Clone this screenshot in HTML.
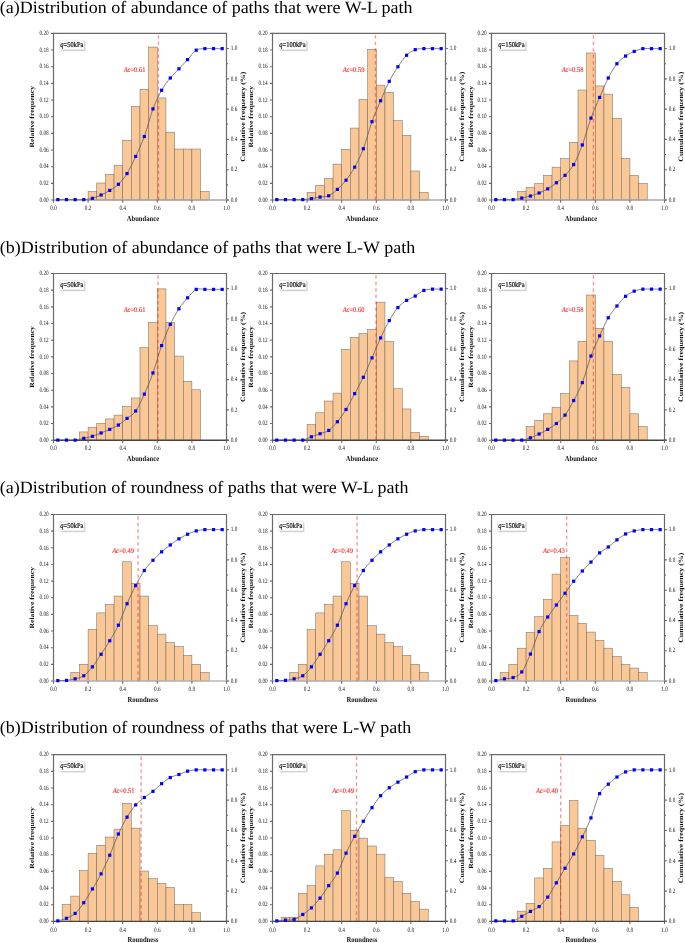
<!DOCTYPE html>
<html><head><meta charset="utf-8"><style>
html,body{margin:0;padding:0;background:#fff;}
body{width:685px;height:943px;overflow:hidden;}
svg{display:block;will-change:transform;}
text{text-rendering:geometricPrecision;}
</style></head><body>
<svg width="685" height="943" viewBox="0 0 685 943">
<rect width="685" height="943" fill="#fff"/>
<text transform="translate(-0.3,12.5) scale(1,0.96)" style="font-family:'Liberation Serif',serif;font-size:18px" fill="#000">(a)Distribution of abundance of paths that were W-L path</text>
<g fill="#fac896" stroke="#6e6660" stroke-width="0.5"><rect x="88.1" y="191.44" width="8.65" height="8.56"/><rect x="96.75" y="183.01" width="8.65" height="16.99"/><rect x="105.4" y="174.32" width="8.65" height="25.68"/><rect x="114.05" y="165.64" width="8.65" height="34.36"/><rect x="122.7" y="140.34" width="8.65" height="59.66"/><rect x="131.35" y="106.62" width="8.65" height="93.38"/><rect x="140" y="89.25" width="8.65" height="110.75"/><rect x="148.65" y="47.09" width="8.65" height="152.91"/><rect x="157.3" y="97.93" width="8.65" height="102.07"/><rect x="165.95" y="132.17" width="8.65" height="67.83"/><rect x="174.6" y="149.03" width="8.65" height="50.97"/><rect x="183.25" y="149.03" width="8.65" height="50.97"/><rect x="191.9" y="149.03" width="8.65" height="50.97"/><rect x="200.55" y="191.44" width="8.65" height="8.56"/></g>
<path d="M53.5,200 V33.4 H226.5 V200" fill="none" stroke="#6a6a6a" stroke-width="1.2"/>
<line x1="53.5" y1="200" x2="228.9" y2="200" stroke="#a6a6a6" stroke-width="1.4"/>
<path d="M51,200H53.5M51,183.34H53.5M51,166.68H53.5M51,150.02H53.5M51,133.36H53.5M51,116.7H53.5M51,100.04H53.5M51,83.38H53.5M51,66.72H53.5M51,50.06H53.5M51,33.4H53.5M226.5,200h2.4M226.5,184.85h1.5M226.5,169.71h2.4M226.5,154.56h1.5M226.5,139.42h2.4M226.5,124.27h1.5M226.5,109.13h2.4M226.5,93.98h1.5M226.5,78.84h2.4M226.5,63.69h1.5M226.5,48.55h2.4M53.5,200v2.7M88.1,200v2.7M122.7,200v2.7M157.3,200v2.7M191.9,200v2.7M226.5,200v2.7" stroke="#6a6a6a" stroke-width="1.1" fill="none"/>
<g transform="scale(0.8,1)" style="font-family:'Liberation Serif',serif;font-size:6.6px" fill="#111"><text x="60.88" y="201.7" text-anchor="end">0.00</text><text x="60.88" y="185.04" text-anchor="end">0.02</text><text x="60.88" y="168.38" text-anchor="end">0.04</text><text x="60.88" y="151.72" text-anchor="end">0.06</text><text x="60.88" y="135.06" text-anchor="end">0.08</text><text x="60.88" y="118.4" text-anchor="end">0.10</text><text x="60.88" y="101.74" text-anchor="end">0.12</text><text x="60.88" y="85.08" text-anchor="end">0.14</text><text x="60.88" y="68.42" text-anchor="end">0.16</text><text x="60.88" y="51.76" text-anchor="end">0.18</text><text x="60.88" y="35.1" text-anchor="end">0.20</text><text x="288.37" y="201.75">0.0</text><text x="288.37" y="171.46">0.2</text><text x="288.37" y="141.17">0.4</text><text x="288.37" y="110.88">0.6</text><text x="288.37" y="80.59">0.8</text><text x="288.37" y="50.3">1.0</text><text x="66.88" y="210.2" text-anchor="middle">0.0</text><text x="110.12" y="210.2" text-anchor="middle">0.2</text><text x="153.38" y="210.2" text-anchor="middle">0.4</text><text x="196.62" y="210.2" text-anchor="middle">0.6</text><text x="239.88" y="210.2" text-anchor="middle">0.8</text><text x="283.12" y="210.2" text-anchor="middle">1.0</text></g>
<line x1="158.51" y1="33.4" x2="158.51" y2="200" stroke="#ff1010" stroke-opacity="0.45" stroke-width="1.4" stroke-dasharray="3.4,3.05" stroke-dashoffset="-1.85"/>
<path d="M57.83,199.61 C59.27,199.61 63.59,199.61 66.47,199.61 C69.36,199.61 72.24,199.61 75.12,199.61 C78.01,199.61 80.89,199.83 83.78,199.61 C86.66,199.4 89.54,199.1 92.43,198.34 C95.31,197.57 98.19,196.33 101.08,195.01 C103.96,193.69 106.84,192.2 109.73,190.42 C112.61,188.63 115.49,187.09 118.38,184.28 C121.26,181.47 124.14,178.2 127.03,173.55 C129.91,168.91 132.79,162.61 135.68,156.44 C138.56,150.26 141.44,144.43 144.32,136.51 C147.21,128.59 150.09,116.63 152.98,108.92 C155.86,101.21 158.74,95.42 161.62,90.27 C164.51,85.12 167.39,81.58 170.28,78.01 C173.16,74.43 176.04,71.88 178.93,68.81 C181.81,65.74 184.69,62.72 187.58,59.61 C190.46,56.5 193.34,51.99 196.23,50.16 C199.11,48.33 201.99,48.88 204.88,48.63 C207.76,48.37 210.64,48.63 213.53,48.63 C216.41,48.63 220.73,48.63 222.18,48.63" fill="none" stroke="#505050" stroke-width="0.7"/>
<g fill="#0000ff"><rect x="56.23" y="198.01" width="3.2" height="3.2"/><rect x="64.88" y="198.01" width="3.2" height="3.2"/><rect x="73.53" y="198.01" width="3.2" height="3.2"/><rect x="82.18" y="198.01" width="3.2" height="3.2"/><rect x="90.83" y="196.74" width="3.2" height="3.2"/><rect x="99.48" y="193.41" width="3.2" height="3.2"/><rect x="108.13" y="188.82" width="3.2" height="3.2"/><rect x="116.78" y="182.68" width="3.2" height="3.2"/><rect x="125.43" y="171.95" width="3.2" height="3.2"/><rect x="134.08" y="154.84" width="3.2" height="3.2"/><rect x="142.72" y="134.91" width="3.2" height="3.2"/><rect x="151.38" y="107.32" width="3.2" height="3.2"/><rect x="160.03" y="88.67" width="3.2" height="3.2"/><rect x="168.68" y="76.41" width="3.2" height="3.2"/><rect x="177.33" y="67.21" width="3.2" height="3.2"/><rect x="185.98" y="58.01" width="3.2" height="3.2"/><rect x="194.63" y="48.56" width="3.2" height="3.2"/><rect x="203.28" y="47.03" width="3.2" height="3.2"/><rect x="211.93" y="47.03" width="3.2" height="3.2"/><rect x="220.58" y="47.03" width="3.2" height="3.2"/></g>
<text transform="translate(142.9,220.9) scale(0.86,1)" text-anchor="middle" style="font-family:'Liberation Serif',serif;font-size:7.7px;font-weight:bold" fill="#111">Abundance</text>
<text transform="translate(34.35,116.7) rotate(-90) scale(1,0.84)" text-anchor="middle" style="font-family:'Liberation Serif',serif;font-size:7.7px;font-weight:bold" fill="#111">Relative frequency</text>
<text transform="translate(244.9,116.7) rotate(-90) scale(1,0.84)" text-anchor="middle" style="font-family:'Liberation Serif',serif;font-size:7.9px;font-weight:bold" fill="#111">Cumulative frequency (%)</text>
<rect x="61.1" y="41.4" width="24.28" height="9.7" fill="#cfcfcf"/>
<rect x="59.8" y="40.1" width="24.28" height="9.7" fill="#fff" stroke="#dadada" stroke-width="0.5"/>
<text transform="translate(60.3,47) scale(0.875,1)" style="font-family:'Liberation Serif',serif;font-size:7.4px" fill="#111" stroke="#111" stroke-width="0.22"><tspan font-style="italic">q</tspan>=50kPa</text>
<text transform="translate(134.54,71.62) scale(0.9,1)" text-anchor="middle" style="font-family:'Liberation Serif',serif;font-size:7.2px" fill="#ff2020" stroke="#ff2020" stroke-width="0.12"><tspan font-style="italic">Ac</tspan>=0.61</text>
<g fill="#fac896" stroke="#6e6660" stroke-width="0.5"><rect x="307.1" y="192.46" width="8.65" height="7.54"/><rect x="315.75" y="185.31" width="8.65" height="14.69"/><rect x="324.4" y="178.41" width="8.65" height="21.59"/><rect x="333.05" y="164.1" width="8.65" height="35.9"/><rect x="341.7" y="149.28" width="8.65" height="50.72"/><rect x="350.35" y="128.08" width="8.65" height="71.92"/><rect x="359" y="99.47" width="8.65" height="100.53"/><rect x="367.65" y="49.39" width="8.65" height="150.61"/><rect x="376.3" y="85.16" width="8.65" height="114.84"/><rect x="384.95" y="92.31" width="8.65" height="107.69"/><rect x="393.6" y="120.67" width="8.65" height="79.33"/><rect x="402.25" y="135.23" width="8.65" height="64.77"/><rect x="410.9" y="171" width="8.65" height="29"/><rect x="419.55" y="192.46" width="8.65" height="7.54"/></g>
<path d="M272.5,200 V33.4 H445.5 V200" fill="none" stroke="#6a6a6a" stroke-width="1.2"/>
<line x1="272.5" y1="200" x2="447.9" y2="200" stroke="#a6a6a6" stroke-width="1.4"/>
<path d="M270,200H272.5M270,183.34H272.5M270,166.68H272.5M270,150.02H272.5M270,133.36H272.5M270,116.7H272.5M270,100.04H272.5M270,83.38H272.5M270,66.72H272.5M270,50.06H272.5M270,33.4H272.5M445.5,200h2.4M445.5,184.85h1.5M445.5,169.71h2.4M445.5,154.56h1.5M445.5,139.42h2.4M445.5,124.27h1.5M445.5,109.13h2.4M445.5,93.98h1.5M445.5,78.84h2.4M445.5,63.69h1.5M445.5,48.55h2.4M272.5,200v2.7M307.1,200v2.7M341.7,200v2.7M376.3,200v2.7M410.9,200v2.7M445.5,200v2.7" stroke="#6a6a6a" stroke-width="1.1" fill="none"/>
<g transform="scale(0.8,1)" style="font-family:'Liberation Serif',serif;font-size:6.6px" fill="#111"><text x="334.62" y="201.7" text-anchor="end">0.00</text><text x="334.62" y="185.04" text-anchor="end">0.02</text><text x="334.62" y="168.38" text-anchor="end">0.04</text><text x="334.62" y="151.72" text-anchor="end">0.06</text><text x="334.62" y="135.06" text-anchor="end">0.08</text><text x="334.62" y="118.4" text-anchor="end">0.10</text><text x="334.62" y="101.74" text-anchor="end">0.12</text><text x="334.62" y="85.08" text-anchor="end">0.14</text><text x="334.62" y="68.42" text-anchor="end">0.16</text><text x="334.62" y="51.76" text-anchor="end">0.18</text><text x="334.62" y="35.1" text-anchor="end">0.20</text><text x="562.12" y="201.75">0.0</text><text x="562.12" y="171.46">0.2</text><text x="562.12" y="141.17">0.4</text><text x="562.12" y="110.88">0.6</text><text x="562.12" y="80.59">0.8</text><text x="562.12" y="50.3">1.0</text><text x="340.62" y="210.2" text-anchor="middle">0.0</text><text x="383.88" y="210.2" text-anchor="middle">0.2</text><text x="427.12" y="210.2" text-anchor="middle">0.4</text><text x="470.38" y="210.2" text-anchor="middle">0.6</text><text x="513.62" y="210.2" text-anchor="middle">0.8</text><text x="556.88" y="210.2" text-anchor="middle">1.0</text></g>
<line x1="375.47" y1="33.4" x2="375.47" y2="200" stroke="#ff1010" stroke-opacity="0.45" stroke-width="1.4" stroke-dasharray="3.4,3.05" stroke-dashoffset="-1.85"/>
<path d="M276.82,199.61 C278.27,199.61 282.59,199.61 285.48,199.61 C288.36,199.61 291.24,199.61 294.12,199.61 C297.01,199.61 299.89,199.78 302.77,199.61 C305.66,199.44 308.54,199.02 311.43,198.59 C314.31,198.17 317.19,197.53 320.07,197.06 C322.96,196.59 325.84,197.06 328.73,195.78 C331.61,194.5 334.49,191.99 337.38,189.39 C340.26,186.8 343.14,183.9 346.02,180.2 C348.91,176.49 351.79,172.41 354.68,167.17 C357.56,161.93 360.44,156.35 363.32,148.77 C366.21,141.19 369.09,129.7 371.98,121.69 C374.86,113.69 377.74,107.47 380.62,100.74 C383.51,94.02 386.39,86.99 389.27,81.33 C392.16,75.67 395.04,71.11 397.93,66.77 C400.81,62.42 403.69,58.12 406.58,55.27 C409.46,52.42 412.34,50.76 415.23,49.65 C418.11,48.54 420.99,48.8 423.88,48.63 C426.76,48.46 429.64,48.63 432.52,48.63 C435.41,48.63 439.73,48.63 441.18,48.63" fill="none" stroke="#505050" stroke-width="0.7"/>
<g fill="#0000ff"><rect x="275.22" y="198.01" width="3.2" height="3.2"/><rect x="283.88" y="198.01" width="3.2" height="3.2"/><rect x="292.52" y="198.01" width="3.2" height="3.2"/><rect x="301.17" y="198.01" width="3.2" height="3.2"/><rect x="309.82" y="196.99" width="3.2" height="3.2"/><rect x="318.47" y="195.46" width="3.2" height="3.2"/><rect x="327.12" y="194.18" width="3.2" height="3.2"/><rect x="335.77" y="187.79" width="3.2" height="3.2"/><rect x="344.42" y="178.6" width="3.2" height="3.2"/><rect x="353.07" y="165.57" width="3.2" height="3.2"/><rect x="361.72" y="147.17" width="3.2" height="3.2"/><rect x="370.38" y="120.09" width="3.2" height="3.2"/><rect x="379.02" y="99.14" width="3.2" height="3.2"/><rect x="387.67" y="79.73" width="3.2" height="3.2"/><rect x="396.32" y="65.17" width="3.2" height="3.2"/><rect x="404.98" y="53.67" width="3.2" height="3.2"/><rect x="413.62" y="48.05" width="3.2" height="3.2"/><rect x="422.27" y="47.03" width="3.2" height="3.2"/><rect x="430.92" y="47.03" width="3.2" height="3.2"/><rect x="439.57" y="47.03" width="3.2" height="3.2"/></g>
<text transform="translate(361.9,220.9) scale(0.86,1)" text-anchor="middle" style="font-family:'Liberation Serif',serif;font-size:7.7px;font-weight:bold" fill="#111">Abundance</text>
<text transform="translate(253.05,116.7) rotate(-90) scale(1,0.84)" text-anchor="middle" style="font-family:'Liberation Serif',serif;font-size:7.7px;font-weight:bold" fill="#111">Relative frequency</text>
<text transform="translate(463.7,116.7) rotate(-90) scale(1,0.84)" text-anchor="middle" style="font-family:'Liberation Serif',serif;font-size:7.9px;font-weight:bold" fill="#111">Cumulative frequency (%)</text>
<rect x="280.1" y="41.4" width="27.51" height="9.7" fill="#cfcfcf"/>
<rect x="278.8" y="40.1" width="27.51" height="9.7" fill="#fff" stroke="#dadada" stroke-width="0.5"/>
<text transform="translate(279.3,47) scale(0.875,1)" style="font-family:'Liberation Serif',serif;font-size:7.4px" fill="#111" stroke="#111" stroke-width="0.22"><tspan font-style="italic">q</tspan>=100kPa</text>
<text transform="translate(353.54,71.62) scale(0.9,1)" text-anchor="middle" style="font-family:'Liberation Serif',serif;font-size:7.2px" fill="#ff2020" stroke="#ff2020" stroke-width="0.12"><tspan font-style="italic">Ac</tspan>=0.59</text>
<g fill="#fac896" stroke="#6e6660" stroke-width="0.5"><rect x="517.45" y="191.44" width="8.65" height="8.56"/><rect x="526.1" y="187.35" width="8.65" height="12.65"/><rect x="534.75" y="183.52" width="8.65" height="16.48"/><rect x="543.4" y="175.34" width="8.65" height="24.66"/><rect x="552.05" y="167.17" width="8.65" height="32.83"/><rect x="560.7" y="158.74" width="8.65" height="41.26"/><rect x="569.35" y="142.39" width="8.65" height="57.61"/><rect x="578" y="90.01" width="8.65" height="109.99"/><rect x="586.65" y="52.97" width="8.65" height="147.03"/><rect x="595.3" y="85.93" width="8.65" height="114.07"/><rect x="603.95" y="94.1" width="8.65" height="105.9"/><rect x="612.6" y="118.37" width="8.65" height="81.63"/><rect x="621.25" y="158.48" width="8.65" height="41.52"/><rect x="629.9" y="175.34" width="8.65" height="24.66"/><rect x="638.55" y="183.52" width="8.65" height="16.48"/></g>
<path d="M491.5,200 V33.4 H664.5 V200" fill="none" stroke="#6a6a6a" stroke-width="1.2"/>
<line x1="491.5" y1="200" x2="666.9" y2="200" stroke="#a6a6a6" stroke-width="1.4"/>
<path d="M489,200H491.5M489,183.34H491.5M489,166.68H491.5M489,150.02H491.5M489,133.36H491.5M489,116.7H491.5M489,100.04H491.5M489,83.38H491.5M489,66.72H491.5M489,50.06H491.5M489,33.4H491.5M664.5,200h2.4M664.5,184.85h1.5M664.5,169.71h2.4M664.5,154.56h1.5M664.5,139.42h2.4M664.5,124.27h1.5M664.5,109.13h2.4M664.5,93.98h1.5M664.5,78.84h2.4M664.5,63.69h1.5M664.5,48.55h2.4M491.5,200v2.7M526.1,200v2.7M560.7,200v2.7M595.3,200v2.7M629.9,200v2.7M664.5,200v2.7" stroke="#6a6a6a" stroke-width="1.1" fill="none"/>
<g transform="scale(0.8,1)" style="font-family:'Liberation Serif',serif;font-size:6.6px" fill="#111"><text x="608.38" y="201.7" text-anchor="end">0.00</text><text x="608.38" y="185.04" text-anchor="end">0.02</text><text x="608.38" y="168.38" text-anchor="end">0.04</text><text x="608.38" y="151.72" text-anchor="end">0.06</text><text x="608.38" y="135.06" text-anchor="end">0.08</text><text x="608.38" y="118.4" text-anchor="end">0.10</text><text x="608.38" y="101.74" text-anchor="end">0.12</text><text x="608.38" y="85.08" text-anchor="end">0.14</text><text x="608.38" y="68.42" text-anchor="end">0.16</text><text x="608.38" y="51.76" text-anchor="end">0.18</text><text x="608.38" y="35.1" text-anchor="end">0.20</text><text x="835.88" y="201.75">0.0</text><text x="835.88" y="171.46">0.2</text><text x="835.88" y="141.17">0.4</text><text x="835.88" y="110.88">0.6</text><text x="835.88" y="80.59">0.8</text><text x="835.88" y="50.3">1.0</text><text x="614.38" y="210.2" text-anchor="middle">0.0</text><text x="657.62" y="210.2" text-anchor="middle">0.2</text><text x="700.88" y="210.2" text-anchor="middle">0.4</text><text x="744.12" y="210.2" text-anchor="middle">0.6</text><text x="787.37" y="210.2" text-anchor="middle">0.8</text><text x="830.62" y="210.2" text-anchor="middle">1.0</text></g>
<line x1="593.45" y1="33.4" x2="593.45" y2="200" stroke="#ff1010" stroke-opacity="0.45" stroke-width="1.4" stroke-dasharray="3.4,3.05" stroke-dashoffset="-1.85"/>
<path d="M495.82,199.61 C497.27,199.61 501.59,199.61 504.48,199.61 C507.36,199.61 510.24,199.87 513.12,199.61 C516.01,199.36 518.89,198.68 521.77,198.08 C524.66,197.48 527.54,196.89 530.42,196.04 C533.31,195.18 536.19,194.16 539.08,192.97 C541.96,191.78 544.84,190.59 547.73,188.88 C550.61,187.18 553.49,185.01 556.38,182.75 C559.26,180.5 562.14,178.37 565.02,175.34 C567.91,172.32 570.79,169.68 573.67,164.61 C576.56,159.55 579.44,152.69 582.33,144.94 C585.21,137.19 588.09,126.04 590.98,118.12 C593.86,110.2 596.74,104.11 599.62,97.42 C602.51,90.74 605.39,83.63 608.27,78.01 C611.16,72.39 614.04,67.36 616.92,63.7 C619.81,60.04 622.69,58.08 625.58,56.04 C628.46,53.99 631.34,52.67 634.23,51.44 C637.11,50.2 639.99,49.1 642.88,48.63 C645.76,48.16 648.64,48.63 651.52,48.63 C654.41,48.63 658.73,48.63 660.17,48.63" fill="none" stroke="#505050" stroke-width="0.7"/>
<g fill="#0000ff"><rect x="494.22" y="198.01" width="3.2" height="3.2"/><rect x="502.88" y="198.01" width="3.2" height="3.2"/><rect x="511.52" y="198.01" width="3.2" height="3.2"/><rect x="520.17" y="196.48" width="3.2" height="3.2"/><rect x="528.82" y="194.44" width="3.2" height="3.2"/><rect x="537.48" y="191.37" width="3.2" height="3.2"/><rect x="546.12" y="187.28" width="3.2" height="3.2"/><rect x="554.77" y="181.15" width="3.2" height="3.2"/><rect x="563.42" y="173.74" width="3.2" height="3.2"/><rect x="572.07" y="163.01" width="3.2" height="3.2"/><rect x="580.73" y="143.34" width="3.2" height="3.2"/><rect x="589.38" y="116.52" width="3.2" height="3.2"/><rect x="598.02" y="95.82" width="3.2" height="3.2"/><rect x="606.67" y="76.41" width="3.2" height="3.2"/><rect x="615.32" y="62.1" width="3.2" height="3.2"/><rect x="623.98" y="54.44" width="3.2" height="3.2"/><rect x="632.62" y="49.84" width="3.2" height="3.2"/><rect x="641.27" y="47.03" width="3.2" height="3.2"/><rect x="649.92" y="47.03" width="3.2" height="3.2"/><rect x="658.57" y="47.03" width="3.2" height="3.2"/></g>
<text transform="translate(580.9,220.9) scale(0.86,1)" text-anchor="middle" style="font-family:'Liberation Serif',serif;font-size:7.7px;font-weight:bold" fill="#111">Abundance</text>
<text transform="translate(472.75,116.7) rotate(-90) scale(1,0.84)" text-anchor="middle" style="font-family:'Liberation Serif',serif;font-size:7.7px;font-weight:bold" fill="#111">Relative frequency</text>
<text transform="translate(683.35,116.7) rotate(-90) scale(1,0.84)" text-anchor="middle" style="font-family:'Liberation Serif',serif;font-size:7.9px;font-weight:bold" fill="#111">Cumulative frequency (%)</text>
<rect x="499.1" y="41.4" width="27.51" height="9.7" fill="#cfcfcf"/>
<rect x="497.8" y="40.1" width="27.51" height="9.7" fill="#fff" stroke="#dadada" stroke-width="0.5"/>
<text transform="translate(498.3,47) scale(0.875,1)" style="font-family:'Liberation Serif',serif;font-size:7.4px" fill="#111" stroke="#111" stroke-width="0.22"><tspan font-style="italic">q</tspan>=150kPa</text>
<text transform="translate(572.54,71.62) scale(0.9,1)" text-anchor="middle" style="font-family:'Liberation Serif',serif;font-size:7.2px" fill="#ff2020" stroke="#ff2020" stroke-width="0.12"><tspan font-style="italic">Ac</tspan>=0.58</text>
<text transform="translate(-0.3,252.6) scale(1,0.96)" style="font-family:'Liberation Serif',serif;font-size:18px" fill="#000">(b)Distribution of abundance of paths that were L-W path</text>
<g fill="#fac896" stroke="#6e6660" stroke-width="0.5"><rect x="79.45" y="431.95" width="8.65" height="8.25"/><rect x="88.1" y="427.35" width="8.65" height="12.85"/><rect x="96.75" y="423.26" width="8.65" height="16.94"/><rect x="105.4" y="418.92" width="8.65" height="21.28"/><rect x="114.05" y="415.09" width="8.65" height="25.11"/><rect x="122.7" y="406.4" width="8.65" height="33.8"/><rect x="131.35" y="397.97" width="8.65" height="42.23"/><rect x="140" y="347.64" width="8.65" height="92.56"/><rect x="148.65" y="322.35" width="8.65" height="117.85"/><rect x="157.3" y="288.88" width="8.65" height="151.32"/><rect x="165.95" y="322.35" width="8.65" height="117.85"/><rect x="174.6" y="356.07" width="8.65" height="84.13"/><rect x="183.25" y="381.36" width="8.65" height="58.84"/><rect x="191.9" y="389.8" width="8.65" height="50.4"/></g>
<path d="M53.5,440.2 V273.5 H226.5 V440.2" fill="none" stroke="#6a6a6a" stroke-width="1.2"/>
<line x1="53.5" y1="440.2" x2="228.9" y2="440.2" stroke="#444" stroke-width="1.4"/>
<path d="M51,440.2H53.5M51,423.53H53.5M51,406.86H53.5M51,390.19H53.5M51,373.52H53.5M51,356.85H53.5M51,340.18H53.5M51,323.51H53.5M51,306.84H53.5M51,290.17H53.5M51,273.5H53.5M226.5,440.2h2.4M226.5,425.05h1.5M226.5,409.89h2.4M226.5,394.74h1.5M226.5,379.58h2.4M226.5,364.43h1.5M226.5,349.27h2.4M226.5,334.12h1.5M226.5,318.96h2.4M226.5,303.81h1.5M226.5,288.65h2.4M53.5,440.2v2.7M88.1,440.2v2.7M122.7,440.2v2.7M157.3,440.2v2.7M191.9,440.2v2.7M226.5,440.2v2.7" stroke="#6a6a6a" stroke-width="1.1" fill="none"/>
<g transform="scale(0.8,1)" style="font-family:'Liberation Serif',serif;font-size:6.6px" fill="#111"><text x="60.88" y="441.9" text-anchor="end">0.00</text><text x="60.88" y="425.23" text-anchor="end">0.02</text><text x="60.88" y="408.56" text-anchor="end">0.04</text><text x="60.88" y="391.89" text-anchor="end">0.06</text><text x="60.88" y="375.22" text-anchor="end">0.08</text><text x="60.88" y="358.55" text-anchor="end">0.10</text><text x="60.88" y="341.88" text-anchor="end">0.12</text><text x="60.88" y="325.21" text-anchor="end">0.14</text><text x="60.88" y="308.54" text-anchor="end">0.16</text><text x="60.88" y="291.87" text-anchor="end">0.18</text><text x="60.88" y="275.2" text-anchor="end">0.20</text><text x="288.37" y="441.95">0.0</text><text x="288.37" y="411.64">0.2</text><text x="288.37" y="381.33">0.4</text><text x="288.37" y="351.02">0.6</text><text x="288.37" y="320.71">0.8</text><text x="288.37" y="290.4">1.0</text><text x="66.88" y="450.4" text-anchor="middle">0.0</text><text x="110.12" y="450.4" text-anchor="middle">0.2</text><text x="153.38" y="450.4" text-anchor="middle">0.4</text><text x="196.62" y="450.4" text-anchor="middle">0.6</text><text x="239.88" y="450.4" text-anchor="middle">0.8</text><text x="283.12" y="450.4" text-anchor="middle">1.0</text></g>
<line x1="158" y1="273.5" x2="158" y2="440.2" stroke="#ff1010" stroke-opacity="0.45" stroke-width="1.4" stroke-dasharray="3.4,3.05" stroke-dashoffset="-1.85"/>
<path d="M57.83,440.12 C59.27,440.12 63.59,440.12 66.47,440.12 C69.36,440.12 72.24,440.42 75.12,440.12 C78.01,439.83 80.89,438.97 83.78,438.34 C86.66,437.7 89.54,437.19 92.43,436.29 C95.31,435.4 98.19,434.12 101.08,432.97 C103.96,431.82 106.84,430.71 109.73,429.39 C112.61,428.07 115.49,426.88 118.38,425.05 C121.26,423.22 124.14,420.75 127.03,418.41 C129.91,416.07 132.79,415.05 135.68,411 C138.56,406.95 141.44,400.48 144.32,394.14 C147.21,387.79 150.09,381.02 152.98,372.93 C155.86,364.84 158.74,353.69 161.62,345.6 C164.51,337.51 167.39,330.53 170.28,324.39 C173.16,318.26 176.04,313.24 178.93,308.81 C181.81,304.38 184.69,301.06 187.58,297.82 C190.46,294.59 193.34,290.8 196.23,289.39 C199.11,287.99 201.99,289.39 204.88,289.39 C207.76,289.39 210.64,289.39 213.53,289.39 C216.41,289.39 220.73,289.39 222.18,289.39" fill="none" stroke="#505050" stroke-width="0.7"/>
<g fill="#0000ff"><rect x="56.23" y="438.52" width="3.2" height="3.2"/><rect x="64.88" y="438.52" width="3.2" height="3.2"/><rect x="73.53" y="438.52" width="3.2" height="3.2"/><rect x="82.18" y="436.74" width="3.2" height="3.2"/><rect x="90.83" y="434.69" width="3.2" height="3.2"/><rect x="99.48" y="431.37" width="3.2" height="3.2"/><rect x="108.13" y="427.79" width="3.2" height="3.2"/><rect x="116.78" y="423.45" width="3.2" height="3.2"/><rect x="125.43" y="416.81" width="3.2" height="3.2"/><rect x="134.08" y="409.4" width="3.2" height="3.2"/><rect x="142.72" y="392.54" width="3.2" height="3.2"/><rect x="151.38" y="371.33" width="3.2" height="3.2"/><rect x="160.03" y="344" width="3.2" height="3.2"/><rect x="168.68" y="322.79" width="3.2" height="3.2"/><rect x="177.33" y="307.21" width="3.2" height="3.2"/><rect x="185.98" y="296.22" width="3.2" height="3.2"/><rect x="194.63" y="287.79" width="3.2" height="3.2"/><rect x="203.28" y="287.79" width="3.2" height="3.2"/><rect x="211.93" y="287.79" width="3.2" height="3.2"/><rect x="220.58" y="287.79" width="3.2" height="3.2"/></g>
<text transform="translate(142.9,461.1) scale(0.86,1)" text-anchor="middle" style="font-family:'Liberation Serif',serif;font-size:7.7px;font-weight:bold" fill="#111">Abundance</text>
<text transform="translate(34.35,356.85) rotate(-90) scale(1,0.84)" text-anchor="middle" style="font-family:'Liberation Serif',serif;font-size:7.7px;font-weight:bold" fill="#111">Relative frequency</text>
<text transform="translate(244.9,356.85) rotate(-90) scale(1,0.84)" text-anchor="middle" style="font-family:'Liberation Serif',serif;font-size:7.9px;font-weight:bold" fill="#111">Cumulative frequency (%)</text>
<rect x="61.1" y="281.5" width="24.28" height="9.7" fill="#cfcfcf"/>
<rect x="59.8" y="280.2" width="24.28" height="9.7" fill="#fff" stroke="#dadada" stroke-width="0.5"/>
<text transform="translate(60.3,287.1) scale(0.875,1)" style="font-family:'Liberation Serif',serif;font-size:7.4px" fill="#111" stroke="#111" stroke-width="0.22"><tspan font-style="italic">q</tspan>=50kPa</text>
<text transform="translate(134.54,312.13) scale(0.9,1)" text-anchor="middle" style="font-family:'Liberation Serif',serif;font-size:7.2px" fill="#ff2020" stroke="#ff2020" stroke-width="0.12"><tspan font-style="italic">Ac</tspan>=0.61</text>
<g fill="#fac896" stroke="#6e6660" stroke-width="0.5"><rect x="307.1" y="424.54" width="8.65" height="15.66"/><rect x="315.75" y="412.79" width="8.65" height="27.41"/><rect x="324.4" y="401.04" width="8.65" height="39.16"/><rect x="333.05" y="393.12" width="8.65" height="47.08"/><rect x="341.7" y="349.43" width="8.65" height="90.77"/><rect x="350.35" y="337.42" width="8.65" height="102.78"/><rect x="359" y="333.59" width="8.65" height="106.61"/><rect x="367.65" y="329.5" width="8.65" height="110.7"/><rect x="376.3" y="302.17" width="8.65" height="138.03"/><rect x="384.95" y="341.51" width="8.65" height="98.69"/><rect x="393.6" y="388.77" width="8.65" height="51.43"/><rect x="402.25" y="408.96" width="8.65" height="31.24"/><rect x="410.9" y="432.46" width="8.65" height="7.74"/><rect x="419.55" y="436.29" width="8.65" height="3.91"/></g>
<path d="M272.5,440.2 V273.5 H445.5 V440.2" fill="none" stroke="#6a6a6a" stroke-width="1.2"/>
<line x1="272.5" y1="440.2" x2="447.9" y2="440.2" stroke="#444" stroke-width="1.4"/>
<path d="M270,440.2H272.5M270,423.53H272.5M270,406.86H272.5M270,390.19H272.5M270,373.52H272.5M270,356.85H272.5M270,340.18H272.5M270,323.51H272.5M270,306.84H272.5M270,290.17H272.5M270,273.5H272.5M445.5,440.2h2.4M445.5,425.05h1.5M445.5,409.89h2.4M445.5,394.74h1.5M445.5,379.58h2.4M445.5,364.43h1.5M445.5,349.27h2.4M445.5,334.12h1.5M445.5,318.96h2.4M445.5,303.81h1.5M445.5,288.65h2.4M272.5,440.2v2.7M307.1,440.2v2.7M341.7,440.2v2.7M376.3,440.2v2.7M410.9,440.2v2.7M445.5,440.2v2.7" stroke="#6a6a6a" stroke-width="1.1" fill="none"/>
<g transform="scale(0.8,1)" style="font-family:'Liberation Serif',serif;font-size:6.6px" fill="#111"><text x="334.62" y="441.9" text-anchor="end">0.00</text><text x="334.62" y="425.23" text-anchor="end">0.02</text><text x="334.62" y="408.56" text-anchor="end">0.04</text><text x="334.62" y="391.89" text-anchor="end">0.06</text><text x="334.62" y="375.22" text-anchor="end">0.08</text><text x="334.62" y="358.55" text-anchor="end">0.10</text><text x="334.62" y="341.88" text-anchor="end">0.12</text><text x="334.62" y="325.21" text-anchor="end">0.14</text><text x="334.62" y="308.54" text-anchor="end">0.16</text><text x="334.62" y="291.87" text-anchor="end">0.18</text><text x="334.62" y="275.2" text-anchor="end">0.20</text><text x="562.12" y="441.95">0.0</text><text x="562.12" y="411.64">0.2</text><text x="562.12" y="381.33">0.4</text><text x="562.12" y="351.02">0.6</text><text x="562.12" y="320.71">0.8</text><text x="562.12" y="290.4">1.0</text><text x="340.62" y="450.4" text-anchor="middle">0.0</text><text x="383.88" y="450.4" text-anchor="middle">0.2</text><text x="427.12" y="450.4" text-anchor="middle">0.4</text><text x="470.38" y="450.4" text-anchor="middle">0.6</text><text x="513.62" y="450.4" text-anchor="middle">0.8</text><text x="556.88" y="450.4" text-anchor="middle">1.0</text></g>
<line x1="375.98" y1="273.5" x2="375.98" y2="440.2" stroke="#ff1010" stroke-opacity="0.45" stroke-width="1.4" stroke-dasharray="3.4,3.05" stroke-dashoffset="-1.85"/>
<path d="M276.82,440.12 C278.27,440.12 282.59,440.12 285.48,440.12 C288.36,440.12 291.24,440.12 294.12,440.12 C297.01,440.12 299.89,440.68 302.77,440.12 C305.66,439.57 308.54,437.87 311.43,436.8 C314.31,435.74 317.19,434.8 320.07,433.74 C322.96,432.67 325.84,432.42 328.73,430.42 C331.61,428.41 334.49,425.22 337.38,421.73 C340.26,418.24 343.14,414.15 346.02,409.47 C348.91,404.78 351.79,398.99 354.68,393.63 C357.56,388.26 360.44,383.24 363.32,377.28 C366.21,371.32 369.09,364.42 371.98,357.86 C374.86,351.3 377.74,344.15 380.62,337.93 C383.51,331.72 386.39,325.63 389.27,320.56 C392.16,315.5 395.04,310.9 397.93,307.53 C400.81,304.17 403.69,302.3 406.58,300.38 C409.46,298.46 412.34,297.7 415.23,296.04 C418.11,294.38 420.99,291.57 423.88,290.42 C426.76,289.27 429.64,289.35 432.52,289.14 C435.41,288.93 439.73,289.14 441.18,289.14" fill="none" stroke="#505050" stroke-width="0.7"/>
<g fill="#0000ff"><rect x="275.22" y="438.52" width="3.2" height="3.2"/><rect x="283.88" y="438.52" width="3.2" height="3.2"/><rect x="292.52" y="438.52" width="3.2" height="3.2"/><rect x="301.17" y="438.52" width="3.2" height="3.2"/><rect x="309.82" y="435.2" width="3.2" height="3.2"/><rect x="318.47" y="432.14" width="3.2" height="3.2"/><rect x="327.12" y="428.82" width="3.2" height="3.2"/><rect x="335.77" y="420.13" width="3.2" height="3.2"/><rect x="344.42" y="407.87" width="3.2" height="3.2"/><rect x="353.07" y="392.03" width="3.2" height="3.2"/><rect x="361.72" y="375.68" width="3.2" height="3.2"/><rect x="370.38" y="356.26" width="3.2" height="3.2"/><rect x="379.02" y="336.33" width="3.2" height="3.2"/><rect x="387.67" y="318.96" width="3.2" height="3.2"/><rect x="396.32" y="305.93" width="3.2" height="3.2"/><rect x="404.98" y="298.78" width="3.2" height="3.2"/><rect x="413.62" y="294.44" width="3.2" height="3.2"/><rect x="422.27" y="288.82" width="3.2" height="3.2"/><rect x="430.92" y="287.54" width="3.2" height="3.2"/><rect x="439.57" y="287.54" width="3.2" height="3.2"/></g>
<text transform="translate(361.9,461.1) scale(0.86,1)" text-anchor="middle" style="font-family:'Liberation Serif',serif;font-size:7.7px;font-weight:bold" fill="#111">Abundance</text>
<text transform="translate(253.05,356.85) rotate(-90) scale(1,0.84)" text-anchor="middle" style="font-family:'Liberation Serif',serif;font-size:7.7px;font-weight:bold" fill="#111">Relative frequency</text>
<text transform="translate(463.7,356.85) rotate(-90) scale(1,0.84)" text-anchor="middle" style="font-family:'Liberation Serif',serif;font-size:7.9px;font-weight:bold" fill="#111">Cumulative frequency (%)</text>
<rect x="280.1" y="281.5" width="27.51" height="9.7" fill="#cfcfcf"/>
<rect x="278.8" y="280.2" width="27.51" height="9.7" fill="#fff" stroke="#dadada" stroke-width="0.5"/>
<text transform="translate(279.3,287.1) scale(0.875,1)" style="font-family:'Liberation Serif',serif;font-size:7.4px" fill="#111" stroke="#111" stroke-width="0.22"><tspan font-style="italic">q</tspan>=100kPa</text>
<text transform="translate(353.54,311.62) scale(0.9,1)" text-anchor="middle" style="font-family:'Liberation Serif',serif;font-size:7.2px" fill="#ff2020" stroke="#ff2020" stroke-width="0.12"><tspan font-style="italic">Ac</tspan>=0.60</text>
<g fill="#fac896" stroke="#6e6660" stroke-width="0.5"><rect x="526.1" y="426.58" width="8.65" height="13.62"/><rect x="534.75" y="420.45" width="8.65" height="19.75"/><rect x="543.4" y="413.81" width="8.65" height="26.39"/><rect x="552.05" y="407.42" width="8.65" height="32.78"/><rect x="560.7" y="393.63" width="8.65" height="46.57"/><rect x="569.35" y="360.93" width="8.65" height="79.27"/><rect x="578" y="341.26" width="8.65" height="98.94"/><rect x="586.65" y="295.01" width="8.65" height="145.19"/><rect x="595.3" y="328.23" width="8.65" height="111.97"/><rect x="603.95" y="341.26" width="8.65" height="98.94"/><rect x="612.6" y="374.21" width="8.65" height="65.99"/><rect x="621.25" y="387.5" width="8.65" height="52.7"/><rect x="629.9" y="413.81" width="8.65" height="26.39"/><rect x="638.55" y="426.58" width="8.65" height="13.62"/></g>
<path d="M491.5,440.2 V273.5 H664.5 V440.2" fill="none" stroke="#6a6a6a" stroke-width="1.2"/>
<line x1="491.5" y1="440.2" x2="666.9" y2="440.2" stroke="#444" stroke-width="1.4"/>
<path d="M489,440.2H491.5M489,423.53H491.5M489,406.86H491.5M489,390.19H491.5M489,373.52H491.5M489,356.85H491.5M489,340.18H491.5M489,323.51H491.5M489,306.84H491.5M489,290.17H491.5M489,273.5H491.5M664.5,440.2h2.4M664.5,425.05h1.5M664.5,409.89h2.4M664.5,394.74h1.5M664.5,379.58h2.4M664.5,364.43h1.5M664.5,349.27h2.4M664.5,334.12h1.5M664.5,318.96h2.4M664.5,303.81h1.5M664.5,288.65h2.4M491.5,440.2v2.7M526.1,440.2v2.7M560.7,440.2v2.7M595.3,440.2v2.7M629.9,440.2v2.7M664.5,440.2v2.7" stroke="#6a6a6a" stroke-width="1.1" fill="none"/>
<g transform="scale(0.8,1)" style="font-family:'Liberation Serif',serif;font-size:6.6px" fill="#111"><text x="608.38" y="441.9" text-anchor="end">0.00</text><text x="608.38" y="425.23" text-anchor="end">0.02</text><text x="608.38" y="408.56" text-anchor="end">0.04</text><text x="608.38" y="391.89" text-anchor="end">0.06</text><text x="608.38" y="375.22" text-anchor="end">0.08</text><text x="608.38" y="358.55" text-anchor="end">0.10</text><text x="608.38" y="341.88" text-anchor="end">0.12</text><text x="608.38" y="325.21" text-anchor="end">0.14</text><text x="608.38" y="308.54" text-anchor="end">0.16</text><text x="608.38" y="291.87" text-anchor="end">0.18</text><text x="608.38" y="275.2" text-anchor="end">0.20</text><text x="835.88" y="441.95">0.0</text><text x="835.88" y="411.64">0.2</text><text x="835.88" y="381.33">0.4</text><text x="835.88" y="351.02">0.6</text><text x="835.88" y="320.71">0.8</text><text x="835.88" y="290.4">1.0</text><text x="614.38" y="450.4" text-anchor="middle">0.0</text><text x="657.62" y="450.4" text-anchor="middle">0.2</text><text x="700.88" y="450.4" text-anchor="middle">0.4</text><text x="744.12" y="450.4" text-anchor="middle">0.6</text><text x="787.37" y="450.4" text-anchor="middle">0.8</text><text x="830.62" y="450.4" text-anchor="middle">1.0</text></g>
<line x1="593.45" y1="273.5" x2="593.45" y2="440.2" stroke="#ff1010" stroke-opacity="0.45" stroke-width="1.4" stroke-dasharray="3.4,3.05" stroke-dashoffset="-1.85"/>
<path d="M495.82,440.12 C497.27,440.12 501.59,440.12 504.48,440.12 C507.36,440.12 510.24,440.12 513.12,440.12 C516.01,440.12 518.89,440.51 521.77,440.12 C524.66,439.74 527.54,438.85 530.42,437.82 C533.31,436.8 536.19,435.4 539.08,433.99 C541.96,432.59 544.84,431.14 547.73,429.39 C550.61,427.65 553.49,425.9 556.38,423.52 C559.26,421.13 562.14,418.92 565.02,415.09 C567.91,411.26 570.79,405.93 573.67,400.53 C576.56,395.12 579.44,390.05 582.33,382.64 C585.21,375.23 588.09,363.86 590.98,356.07 C593.86,348.28 596.74,342.28 599.62,335.89 C602.51,329.5 605.39,322.73 608.27,317.75 C611.16,312.77 614.04,309.58 616.92,306 C619.81,302.42 622.69,298.76 625.58,296.29 C628.46,293.82 631.34,292.37 634.23,291.18 C637.11,289.99 639.99,289.48 642.88,289.14 C645.76,288.8 648.64,289.14 651.52,289.14 C654.41,289.14 658.73,289.14 660.17,289.14" fill="none" stroke="#505050" stroke-width="0.7"/>
<g fill="#0000ff"><rect x="494.22" y="438.52" width="3.2" height="3.2"/><rect x="502.88" y="438.52" width="3.2" height="3.2"/><rect x="511.52" y="438.52" width="3.2" height="3.2"/><rect x="520.17" y="438.52" width="3.2" height="3.2"/><rect x="528.82" y="436.22" width="3.2" height="3.2"/><rect x="537.48" y="432.39" width="3.2" height="3.2"/><rect x="546.12" y="427.79" width="3.2" height="3.2"/><rect x="554.77" y="421.92" width="3.2" height="3.2"/><rect x="563.42" y="413.49" width="3.2" height="3.2"/><rect x="572.07" y="398.93" width="3.2" height="3.2"/><rect x="580.73" y="381.04" width="3.2" height="3.2"/><rect x="589.38" y="354.47" width="3.2" height="3.2"/><rect x="598.02" y="334.29" width="3.2" height="3.2"/><rect x="606.67" y="316.15" width="3.2" height="3.2"/><rect x="615.32" y="304.4" width="3.2" height="3.2"/><rect x="623.98" y="294.69" width="3.2" height="3.2"/><rect x="632.62" y="289.58" width="3.2" height="3.2"/><rect x="641.27" y="287.54" width="3.2" height="3.2"/><rect x="649.92" y="287.54" width="3.2" height="3.2"/><rect x="658.57" y="287.54" width="3.2" height="3.2"/></g>
<text transform="translate(580.9,461.1) scale(0.86,1)" text-anchor="middle" style="font-family:'Liberation Serif',serif;font-size:7.7px;font-weight:bold" fill="#111">Abundance</text>
<text transform="translate(472.75,356.85) rotate(-90) scale(1,0.84)" text-anchor="middle" style="font-family:'Liberation Serif',serif;font-size:7.7px;font-weight:bold" fill="#111">Relative frequency</text>
<text transform="translate(683.35,356.85) rotate(-90) scale(1,0.84)" text-anchor="middle" style="font-family:'Liberation Serif',serif;font-size:7.9px;font-weight:bold" fill="#111">Cumulative frequency (%)</text>
<rect x="499.1" y="281.5" width="27.51" height="9.7" fill="#cfcfcf"/>
<rect x="497.8" y="280.2" width="27.51" height="9.7" fill="#fff" stroke="#dadada" stroke-width="0.5"/>
<text transform="translate(498.3,287.1) scale(0.875,1)" style="font-family:'Liberation Serif',serif;font-size:7.4px" fill="#111" stroke="#111" stroke-width="0.22"><tspan font-style="italic">q</tspan>=150kPa</text>
<text transform="translate(572.54,311.62) scale(0.9,1)" text-anchor="middle" style="font-family:'Liberation Serif',serif;font-size:7.2px" fill="#ff2020" stroke="#ff2020" stroke-width="0.12"><tspan font-style="italic">Ac</tspan>=0.58</text>
<text transform="translate(-0.3,493.1) scale(1,0.96)" style="font-family:'Liberation Serif',serif;font-size:18px" fill="#000">(a)Distribution of roundness of paths that were W-L path</text>
<g fill="#fac896" stroke="#6e6660" stroke-width="0.5"><rect x="70.8" y="672.44" width="8.65" height="8.56"/><rect x="79.45" y="664.26" width="8.65" height="16.74"/><rect x="88.1" y="629.52" width="8.65" height="51.48"/><rect x="96.75" y="612.91" width="8.65" height="68.09"/><rect x="105.4" y="604.48" width="8.65" height="76.52"/><rect x="114.05" y="596.05" width="8.65" height="84.95"/><rect x="122.7" y="561.82" width="8.65" height="119.18"/><rect x="131.35" y="583.28" width="8.65" height="97.72"/><rect x="140" y="596.05" width="8.65" height="84.95"/><rect x="148.65" y="625.69" width="8.65" height="55.31"/><rect x="157.3" y="634.12" width="8.65" height="46.88"/><rect x="165.95" y="642.55" width="8.65" height="38.45"/><rect x="174.6" y="646.64" width="8.65" height="34.36"/><rect x="183.25" y="655.32" width="8.65" height="25.68"/><rect x="191.9" y="664.26" width="8.65" height="16.74"/><rect x="200.55" y="672.44" width="8.65" height="8.56"/></g>
<path d="M53.5,681 V514.5 H226.5 V681" fill="none" stroke="#6a6a6a" stroke-width="1.2"/>
<line x1="53.5" y1="681" x2="228.9" y2="681" stroke="#b8b8b8" stroke-width="1.4"/>
<path d="M51,681H53.5M51,664.35H53.5M51,647.7H53.5M51,631.05H53.5M51,614.4H53.5M51,597.75H53.5M51,581.1H53.5M51,564.45H53.5M51,547.8H53.5M51,531.15H53.5M51,514.5H53.5M226.5,681h2.4M226.5,665.86h1.5M226.5,650.73h2.4M226.5,635.59h1.5M226.5,620.45h2.4M226.5,605.32h1.5M226.5,590.18h2.4M226.5,575.05h1.5M226.5,559.91h2.4M226.5,544.77h1.5M226.5,529.64h2.4M53.5,681v2.7M88.1,681v2.7M122.7,681v2.7M157.3,681v2.7M191.9,681v2.7M226.5,681v2.7" stroke="#6a6a6a" stroke-width="1.1" fill="none"/>
<g transform="scale(0.8,1)" style="font-family:'Liberation Serif',serif;font-size:6.6px" fill="#111"><text x="60.88" y="682.7" text-anchor="end">0.00</text><text x="60.88" y="666.05" text-anchor="end">0.02</text><text x="60.88" y="649.4" text-anchor="end">0.04</text><text x="60.88" y="632.75" text-anchor="end">0.06</text><text x="60.88" y="616.1" text-anchor="end">0.08</text><text x="60.88" y="599.45" text-anchor="end">0.10</text><text x="60.88" y="582.8" text-anchor="end">0.12</text><text x="60.88" y="566.15" text-anchor="end">0.14</text><text x="60.88" y="549.5" text-anchor="end">0.16</text><text x="60.88" y="532.85" text-anchor="end">0.18</text><text x="60.88" y="516.2" text-anchor="end">0.20</text><text x="288.37" y="682.75">0.0</text><text x="288.37" y="652.48">0.2</text><text x="288.37" y="622.2">0.4</text><text x="288.37" y="591.93">0.6</text><text x="288.37" y="561.66">0.8</text><text x="288.37" y="531.39">1.0</text><text x="66.88" y="691.2" text-anchor="middle">0.0</text><text x="110.12" y="691.2" text-anchor="middle">0.2</text><text x="153.38" y="691.2" text-anchor="middle">0.4</text><text x="196.62" y="691.2" text-anchor="middle">0.6</text><text x="239.88" y="691.2" text-anchor="middle">0.8</text><text x="283.12" y="691.2" text-anchor="middle">1.0</text></g>
<line x1="138.07" y1="514.5" x2="138.07" y2="681" stroke="#ff1010" stroke-opacity="0.45" stroke-width="1.4" stroke-dasharray="3.4,3.05" stroke-dashoffset="-1.85"/>
<path d="M57.83,680.61 C59.27,680.57 63.59,680.66 66.47,680.36 C69.36,680.06 72.24,679.59 75.12,678.82 C78.01,678.06 80.89,677.76 83.78,675.76 C86.66,673.76 89.54,670.39 92.43,666.82 C95.31,663.24 98.19,658.64 101.08,654.3 C103.96,649.96 106.84,645.61 109.73,640.76 C112.61,635.91 115.49,631.35 118.38,625.18 C121.26,619 124.14,610.32 127.03,603.72 C129.91,597.12 132.79,591.11 135.68,585.58 C138.56,580.04 141.44,574.72 144.32,570.5 C147.21,566.29 150.09,563.39 152.98,560.28 C155.86,557.18 158.74,554.41 161.62,551.85 C164.51,549.3 167.39,547.13 170.28,544.96 C173.16,542.78 176.04,540.61 178.93,538.82 C181.81,537.04 184.69,535.55 187.58,534.23 C190.46,532.91 193.34,531.67 196.23,530.91 C199.11,530.14 201.99,529.84 204.88,529.63 C207.76,529.41 210.64,529.63 213.53,529.63 C216.41,529.63 220.73,529.63 222.18,529.63" fill="none" stroke="#505050" stroke-width="0.7"/>
<g fill="#0000ff"><rect x="56.23" y="679.01" width="3.2" height="3.2"/><rect x="64.88" y="678.76" width="3.2" height="3.2"/><rect x="73.53" y="677.22" width="3.2" height="3.2"/><rect x="82.18" y="674.16" width="3.2" height="3.2"/><rect x="90.83" y="665.22" width="3.2" height="3.2"/><rect x="99.48" y="652.7" width="3.2" height="3.2"/><rect x="108.13" y="639.16" width="3.2" height="3.2"/><rect x="116.78" y="623.58" width="3.2" height="3.2"/><rect x="125.43" y="602.12" width="3.2" height="3.2"/><rect x="134.08" y="583.98" width="3.2" height="3.2"/><rect x="142.72" y="568.9" width="3.2" height="3.2"/><rect x="151.38" y="558.68" width="3.2" height="3.2"/><rect x="160.03" y="550.25" width="3.2" height="3.2"/><rect x="168.68" y="543.36" width="3.2" height="3.2"/><rect x="177.33" y="537.22" width="3.2" height="3.2"/><rect x="185.98" y="532.63" width="3.2" height="3.2"/><rect x="194.63" y="529.31" width="3.2" height="3.2"/><rect x="203.28" y="528.03" width="3.2" height="3.2"/><rect x="211.93" y="528.03" width="3.2" height="3.2"/><rect x="220.58" y="528.03" width="3.2" height="3.2"/></g>
<text transform="translate(142.9,701.9) scale(0.86,1)" text-anchor="middle" style="font-family:'Liberation Serif',serif;font-size:7.7px;font-weight:bold" fill="#111">Roundness</text>
<text transform="translate(34.35,597.75) rotate(-90) scale(1,0.84)" text-anchor="middle" style="font-family:'Liberation Serif',serif;font-size:7.7px;font-weight:bold" fill="#111">Relative frequency</text>
<text transform="translate(244.9,597.75) rotate(-90) scale(1,0.84)" text-anchor="middle" style="font-family:'Liberation Serif',serif;font-size:7.9px;font-weight:bold" fill="#111">Cumulative frequency (%)</text>
<rect x="61.1" y="522.5" width="24.28" height="9.7" fill="#cfcfcf"/>
<rect x="59.8" y="521.2" width="24.28" height="9.7" fill="#fff" stroke="#dadada" stroke-width="0.5"/>
<text transform="translate(60.3,528.1) scale(0.875,1)" style="font-family:'Liberation Serif',serif;font-size:7.4px" fill="#111" stroke="#111" stroke-width="0.22"><tspan font-style="italic">q</tspan>=50kPa</text>
<text transform="translate(123.04,552.62) scale(0.9,1)" text-anchor="middle" style="font-family:'Liberation Serif',serif;font-size:7.2px" fill="#ff2020" stroke="#ff2020" stroke-width="0.12"><tspan font-style="italic">Ac</tspan>=0.49</text>
<g fill="#fac896" stroke="#6e6660" stroke-width="0.5"><rect x="289.8" y="672.44" width="8.65" height="8.56"/><rect x="298.45" y="664.26" width="8.65" height="16.74"/><rect x="307.1" y="629.52" width="8.65" height="51.48"/><rect x="315.75" y="612.91" width="8.65" height="68.09"/><rect x="324.4" y="604.48" width="8.65" height="76.52"/><rect x="333.05" y="596.05" width="8.65" height="84.95"/><rect x="341.7" y="561.82" width="8.65" height="119.18"/><rect x="350.35" y="583.28" width="8.65" height="97.72"/><rect x="359" y="596.05" width="8.65" height="84.95"/><rect x="367.65" y="625.69" width="8.65" height="55.31"/><rect x="376.3" y="634.12" width="8.65" height="46.88"/><rect x="384.95" y="642.55" width="8.65" height="38.45"/><rect x="393.6" y="646.64" width="8.65" height="34.36"/><rect x="402.25" y="655.32" width="8.65" height="25.68"/><rect x="410.9" y="664.26" width="8.65" height="16.74"/><rect x="419.55" y="672.44" width="8.65" height="8.56"/></g>
<path d="M272.5,681 V514.5 H445.5 V681" fill="none" stroke="#6a6a6a" stroke-width="1.2"/>
<line x1="272.5" y1="681" x2="447.9" y2="681" stroke="#b8b8b8" stroke-width="1.4"/>
<path d="M270,681H272.5M270,664.35H272.5M270,647.7H272.5M270,631.05H272.5M270,614.4H272.5M270,597.75H272.5M270,581.1H272.5M270,564.45H272.5M270,547.8H272.5M270,531.15H272.5M270,514.5H272.5M445.5,681h2.4M445.5,665.86h1.5M445.5,650.73h2.4M445.5,635.59h1.5M445.5,620.45h2.4M445.5,605.32h1.5M445.5,590.18h2.4M445.5,575.05h1.5M445.5,559.91h2.4M445.5,544.77h1.5M445.5,529.64h2.4M272.5,681v2.7M307.1,681v2.7M341.7,681v2.7M376.3,681v2.7M410.9,681v2.7M445.5,681v2.7" stroke="#6a6a6a" stroke-width="1.1" fill="none"/>
<g transform="scale(0.8,1)" style="font-family:'Liberation Serif',serif;font-size:6.6px" fill="#111"><text x="334.62" y="682.7" text-anchor="end">0.00</text><text x="334.62" y="666.05" text-anchor="end">0.02</text><text x="334.62" y="649.4" text-anchor="end">0.04</text><text x="334.62" y="632.75" text-anchor="end">0.06</text><text x="334.62" y="616.1" text-anchor="end">0.08</text><text x="334.62" y="599.45" text-anchor="end">0.10</text><text x="334.62" y="582.8" text-anchor="end">0.12</text><text x="334.62" y="566.15" text-anchor="end">0.14</text><text x="334.62" y="549.5" text-anchor="end">0.16</text><text x="334.62" y="532.85" text-anchor="end">0.18</text><text x="334.62" y="516.2" text-anchor="end">0.20</text><text x="562.12" y="682.75">0.0</text><text x="562.12" y="652.48">0.2</text><text x="562.12" y="622.2">0.4</text><text x="562.12" y="591.93">0.6</text><text x="562.12" y="561.66">0.8</text><text x="562.12" y="531.39">1.0</text><text x="340.62" y="691.2" text-anchor="middle">0.0</text><text x="383.88" y="691.2" text-anchor="middle">0.2</text><text x="427.12" y="691.2" text-anchor="middle">0.4</text><text x="470.38" y="691.2" text-anchor="middle">0.6</text><text x="513.62" y="691.2" text-anchor="middle">0.8</text><text x="556.88" y="691.2" text-anchor="middle">1.0</text></g>
<line x1="357.07" y1="514.5" x2="357.07" y2="681" stroke="#ff1010" stroke-opacity="0.45" stroke-width="1.4" stroke-dasharray="3.4,3.05" stroke-dashoffset="-1.85"/>
<path d="M276.82,680.61 C278.27,680.57 282.59,680.66 285.48,680.36 C288.36,680.06 291.24,679.59 294.12,678.82 C297.01,678.06 299.89,677.76 302.77,675.76 C305.66,673.76 308.54,670.39 311.43,666.82 C314.31,663.24 317.19,658.64 320.07,654.3 C322.96,649.96 325.84,645.61 328.73,640.76 C331.61,635.91 334.49,631.35 337.38,625.18 C340.26,619 343.14,610.32 346.02,603.72 C348.91,597.12 351.79,591.11 354.68,585.58 C357.56,580.04 360.44,574.72 363.32,570.5 C366.21,566.29 369.09,563.39 371.98,560.28 C374.86,557.18 377.74,554.41 380.62,551.85 C383.51,549.3 386.39,547.13 389.27,544.96 C392.16,542.78 395.04,540.61 397.93,538.82 C400.81,537.04 403.69,535.55 406.58,534.23 C409.46,532.91 412.34,531.67 415.23,530.91 C418.11,530.14 420.99,529.84 423.88,529.63 C426.76,529.41 429.64,529.63 432.52,529.63 C435.41,529.63 439.73,529.63 441.18,529.63" fill="none" stroke="#505050" stroke-width="0.7"/>
<g fill="#0000ff"><rect x="275.22" y="679.01" width="3.2" height="3.2"/><rect x="283.88" y="678.76" width="3.2" height="3.2"/><rect x="292.52" y="677.22" width="3.2" height="3.2"/><rect x="301.17" y="674.16" width="3.2" height="3.2"/><rect x="309.82" y="665.22" width="3.2" height="3.2"/><rect x="318.47" y="652.7" width="3.2" height="3.2"/><rect x="327.12" y="639.16" width="3.2" height="3.2"/><rect x="335.77" y="623.58" width="3.2" height="3.2"/><rect x="344.42" y="602.12" width="3.2" height="3.2"/><rect x="353.07" y="583.98" width="3.2" height="3.2"/><rect x="361.72" y="568.9" width="3.2" height="3.2"/><rect x="370.38" y="558.68" width="3.2" height="3.2"/><rect x="379.02" y="550.25" width="3.2" height="3.2"/><rect x="387.67" y="543.36" width="3.2" height="3.2"/><rect x="396.32" y="537.22" width="3.2" height="3.2"/><rect x="404.98" y="532.63" width="3.2" height="3.2"/><rect x="413.62" y="529.31" width="3.2" height="3.2"/><rect x="422.27" y="528.03" width="3.2" height="3.2"/><rect x="430.92" y="528.03" width="3.2" height="3.2"/><rect x="439.57" y="528.03" width="3.2" height="3.2"/></g>
<text transform="translate(361.9,701.9) scale(0.86,1)" text-anchor="middle" style="font-family:'Liberation Serif',serif;font-size:7.7px;font-weight:bold" fill="#111">Roundness</text>
<text transform="translate(253.05,597.75) rotate(-90) scale(1,0.84)" text-anchor="middle" style="font-family:'Liberation Serif',serif;font-size:7.7px;font-weight:bold" fill="#111">Relative frequency</text>
<text transform="translate(463.7,597.75) rotate(-90) scale(1,0.84)" text-anchor="middle" style="font-family:'Liberation Serif',serif;font-size:7.9px;font-weight:bold" fill="#111">Cumulative frequency (%)</text>
<rect x="280.1" y="522.5" width="24.28" height="9.7" fill="#cfcfcf"/>
<rect x="278.8" y="521.2" width="24.28" height="9.7" fill="#fff" stroke="#dadada" stroke-width="0.5"/>
<text transform="translate(279.3,528.1) scale(0.875,1)" style="font-family:'Liberation Serif',serif;font-size:7.4px" fill="#111" stroke="#111" stroke-width="0.22"><tspan font-style="italic">q</tspan>=50kPa</text>
<text transform="translate(342.04,552.62) scale(0.9,1)" text-anchor="middle" style="font-family:'Liberation Serif',serif;font-size:7.2px" fill="#ff2020" stroke="#ff2020" stroke-width="0.12"><tspan font-style="italic">Ac</tspan>=0.49</text>
<g fill="#fac896" stroke="#6e6660" stroke-width="0.5"><rect x="500.15" y="672.44" width="8.65" height="8.56"/><rect x="508.8" y="664.26" width="8.65" height="16.74"/><rect x="517.45" y="648.17" width="8.65" height="32.83"/><rect x="526.1" y="632.33" width="8.65" height="48.67"/><rect x="534.75" y="616.74" width="8.65" height="64.26"/><rect x="543.4" y="599.37" width="8.65" height="81.63"/><rect x="552.05" y="574.08" width="8.65" height="106.92"/><rect x="560.7" y="557.47" width="8.65" height="123.53"/><rect x="569.35" y="615.47" width="8.65" height="65.53"/><rect x="578" y="623.39" width="8.65" height="57.61"/><rect x="586.65" y="632.07" width="8.65" height="48.93"/><rect x="595.3" y="640.25" width="8.65" height="40.75"/><rect x="603.95" y="648.17" width="8.65" height="32.83"/><rect x="612.6" y="656.6" width="8.65" height="24.4"/><rect x="621.25" y="664.52" width="8.65" height="16.48"/><rect x="629.9" y="668.09" width="8.65" height="12.91"/><rect x="638.55" y="672.44" width="8.65" height="8.56"/></g>
<path d="M491.5,681 V514.5 H664.5 V681" fill="none" stroke="#6a6a6a" stroke-width="1.2"/>
<line x1="491.5" y1="681" x2="666.9" y2="681" stroke="#b8b8b8" stroke-width="1.4"/>
<path d="M489,681H491.5M489,664.35H491.5M489,647.7H491.5M489,631.05H491.5M489,614.4H491.5M489,597.75H491.5M489,581.1H491.5M489,564.45H491.5M489,547.8H491.5M489,531.15H491.5M489,514.5H491.5M664.5,681h2.4M664.5,665.86h1.5M664.5,650.73h2.4M664.5,635.59h1.5M664.5,620.45h2.4M664.5,605.32h1.5M664.5,590.18h2.4M664.5,575.05h1.5M664.5,559.91h2.4M664.5,544.77h1.5M664.5,529.64h2.4M491.5,681v2.7M526.1,681v2.7M560.7,681v2.7M595.3,681v2.7M629.9,681v2.7M664.5,681v2.7" stroke="#6a6a6a" stroke-width="1.1" fill="none"/>
<g transform="scale(0.8,1)" style="font-family:'Liberation Serif',serif;font-size:6.6px" fill="#111"><text x="608.38" y="682.7" text-anchor="end">0.00</text><text x="608.38" y="666.05" text-anchor="end">0.02</text><text x="608.38" y="649.4" text-anchor="end">0.04</text><text x="608.38" y="632.75" text-anchor="end">0.06</text><text x="608.38" y="616.1" text-anchor="end">0.08</text><text x="608.38" y="599.45" text-anchor="end">0.10</text><text x="608.38" y="582.8" text-anchor="end">0.12</text><text x="608.38" y="566.15" text-anchor="end">0.14</text><text x="608.38" y="549.5" text-anchor="end">0.16</text><text x="608.38" y="532.85" text-anchor="end">0.18</text><text x="608.38" y="516.2" text-anchor="end">0.20</text><text x="835.88" y="682.75">0.0</text><text x="835.88" y="652.48">0.2</text><text x="835.88" y="622.2">0.4</text><text x="835.88" y="591.93">0.6</text><text x="835.88" y="561.66">0.8</text><text x="835.88" y="531.39">1.0</text><text x="614.38" y="691.2" text-anchor="middle">0.0</text><text x="657.62" y="691.2" text-anchor="middle">0.2</text><text x="700.88" y="691.2" text-anchor="middle">0.4</text><text x="744.12" y="691.2" text-anchor="middle">0.6</text><text x="787.37" y="691.2" text-anchor="middle">0.8</text><text x="830.62" y="691.2" text-anchor="middle">1.0</text></g>
<line x1="566.62" y1="514.5" x2="566.62" y2="681" stroke="#ff1010" stroke-opacity="0.45" stroke-width="1.4" stroke-dasharray="3.4,3.05" stroke-dashoffset="-1.85"/>
<path d="M495.82,680.61 C497.27,680.32 501.59,679.34 504.48,678.82 C507.36,678.31 510.24,678.7 513.12,677.55 C516.01,676.4 518.89,675.84 521.77,671.93 C524.66,668.01 527.54,660.77 530.42,654.04 C533.31,647.32 536.19,637.74 539.08,631.56 C541.96,625.39 544.84,621.43 547.73,617 C550.61,612.57 553.49,608.95 556.38,604.99 C559.26,601.03 562.14,597.2 565.02,593.24 C567.91,589.28 570.79,584.94 573.67,581.23 C576.56,577.53 579.44,574.21 582.33,571.01 C585.21,567.82 588.09,565.1 590.98,562.07 C593.86,559.05 596.74,555.39 599.62,552.88 C602.51,550.36 605.39,549.17 608.27,547 C611.16,544.83 614.04,542.02 616.92,539.85 C619.81,537.68 622.69,535.46 625.58,533.97 C628.46,532.48 631.34,531.63 634.23,530.91 C637.11,530.18 639.99,529.84 642.88,529.63 C645.76,529.41 648.64,529.63 651.52,529.63 C654.41,529.63 658.73,529.63 660.17,529.63" fill="none" stroke="#505050" stroke-width="0.7"/>
<g fill="#0000ff"><rect x="494.22" y="679.01" width="3.2" height="3.2"/><rect x="502.88" y="677.22" width="3.2" height="3.2"/><rect x="511.52" y="675.95" width="3.2" height="3.2"/><rect x="520.17" y="670.33" width="3.2" height="3.2"/><rect x="528.82" y="652.44" width="3.2" height="3.2"/><rect x="537.48" y="629.96" width="3.2" height="3.2"/><rect x="546.12" y="615.4" width="3.2" height="3.2"/><rect x="554.77" y="603.39" width="3.2" height="3.2"/><rect x="563.42" y="591.64" width="3.2" height="3.2"/><rect x="572.07" y="579.63" width="3.2" height="3.2"/><rect x="580.73" y="569.41" width="3.2" height="3.2"/><rect x="589.38" y="560.47" width="3.2" height="3.2"/><rect x="598.02" y="551.28" width="3.2" height="3.2"/><rect x="606.67" y="545.4" width="3.2" height="3.2"/><rect x="615.32" y="538.25" width="3.2" height="3.2"/><rect x="623.98" y="532.37" width="3.2" height="3.2"/><rect x="632.62" y="529.31" width="3.2" height="3.2"/><rect x="641.27" y="528.03" width="3.2" height="3.2"/><rect x="649.92" y="528.03" width="3.2" height="3.2"/><rect x="658.57" y="528.03" width="3.2" height="3.2"/></g>
<text transform="translate(580.9,701.9) scale(0.86,1)" text-anchor="middle" style="font-family:'Liberation Serif',serif;font-size:7.7px;font-weight:bold" fill="#111">Roundness</text>
<text transform="translate(472.75,597.75) rotate(-90) scale(1,0.84)" text-anchor="middle" style="font-family:'Liberation Serif',serif;font-size:7.7px;font-weight:bold" fill="#111">Relative frequency</text>
<text transform="translate(683.35,597.75) rotate(-90) scale(1,0.84)" text-anchor="middle" style="font-family:'Liberation Serif',serif;font-size:7.9px;font-weight:bold" fill="#111">Cumulative frequency (%)</text>
<rect x="499.1" y="522.5" width="27.51" height="9.7" fill="#cfcfcf"/>
<rect x="497.8" y="521.2" width="27.51" height="9.7" fill="#fff" stroke="#dadada" stroke-width="0.5"/>
<text transform="translate(498.3,528.1) scale(0.875,1)" style="font-family:'Liberation Serif',serif;font-size:7.4px" fill="#111" stroke="#111" stroke-width="0.22"><tspan font-style="italic">q</tspan>=150kPa</text>
<text transform="translate(553.89,552.62) scale(0.9,1)" text-anchor="middle" style="font-family:'Liberation Serif',serif;font-size:7.2px" fill="#ff2020" stroke="#ff2020" stroke-width="0.12"><tspan font-style="italic">Ac</tspan>=0.43</text>
<text transform="translate(-0.3,733.4) scale(1,0.96)" style="font-family:'Liberation Serif',serif;font-size:18px" fill="#000">(b)Distribution of roundness of paths that were L-W path</text>
<g fill="#fac896" stroke="#6e6660" stroke-width="0.5"><rect x="62.15" y="904.52" width="8.65" height="16.88"/><rect x="70.8" y="896.09" width="8.65" height="25.31"/><rect x="79.45" y="870.54" width="8.65" height="50.86"/><rect x="88.1" y="853.68" width="8.65" height="67.72"/><rect x="96.75" y="845.25" width="8.65" height="76.15"/><rect x="105.4" y="837.07" width="8.65" height="84.33"/><rect x="114.05" y="829.15" width="8.65" height="92.25"/><rect x="122.7" y="803.35" width="8.65" height="118.05"/><rect x="131.35" y="828.13" width="8.65" height="93.27"/><rect x="140" y="871.05" width="8.65" height="50.35"/><rect x="148.65" y="878.72" width="8.65" height="42.68"/><rect x="157.3" y="883.31" width="8.65" height="38.09"/><rect x="165.95" y="887.4" width="8.65" height="34"/><rect x="174.6" y="904.52" width="8.65" height="16.88"/><rect x="183.25" y="904.52" width="8.65" height="16.88"/><rect x="191.9" y="912.69" width="8.65" height="8.71"/></g>
<path d="M53.5,921.4 V754.7 H226.5 V921.4" fill="none" stroke="#6a6a6a" stroke-width="1.2"/>
<line x1="53.5" y1="921.4" x2="228.9" y2="921.4" stroke="#444" stroke-width="1.4"/>
<path d="M51,921.4H53.5M51,904.73H53.5M51,888.06H53.5M51,871.39H53.5M51,854.72H53.5M51,838.05H53.5M51,821.38H53.5M51,804.71H53.5M51,788.04H53.5M51,771.37H53.5M51,754.7H53.5M226.5,921.4h2.4M226.5,906.25h1.5M226.5,891.09h2.4M226.5,875.94h1.5M226.5,860.78h2.4M226.5,845.63h1.5M226.5,830.47h2.4M226.5,815.32h1.5M226.5,800.16h2.4M226.5,785.01h1.5M226.5,769.85h2.4M53.5,921.4v2.7M88.1,921.4v2.7M122.7,921.4v2.7M157.3,921.4v2.7M191.9,921.4v2.7M226.5,921.4v2.7" stroke="#6a6a6a" stroke-width="1.1" fill="none"/>
<g transform="scale(0.8,1)" style="font-family:'Liberation Serif',serif;font-size:6.6px" fill="#111"><text x="60.88" y="923.1" text-anchor="end">0.00</text><text x="60.88" y="906.43" text-anchor="end">0.02</text><text x="60.88" y="889.76" text-anchor="end">0.04</text><text x="60.88" y="873.09" text-anchor="end">0.06</text><text x="60.88" y="856.42" text-anchor="end">0.08</text><text x="60.88" y="839.75" text-anchor="end">0.10</text><text x="60.88" y="823.08" text-anchor="end">0.12</text><text x="60.88" y="806.41" text-anchor="end">0.14</text><text x="60.88" y="789.74" text-anchor="end">0.16</text><text x="60.88" y="773.07" text-anchor="end">0.18</text><text x="60.88" y="756.4" text-anchor="end">0.20</text><text x="288.37" y="923.15">0.0</text><text x="288.37" y="892.84">0.2</text><text x="288.37" y="862.53">0.4</text><text x="288.37" y="832.22">0.6</text><text x="288.37" y="801.91">0.8</text><text x="288.37" y="771.6">1.0</text><text x="66.88" y="931.6" text-anchor="middle">0.0</text><text x="110.12" y="931.6" text-anchor="middle">0.2</text><text x="153.38" y="931.6" text-anchor="middle">0.4</text><text x="196.62" y="931.6" text-anchor="middle">0.6</text><text x="239.88" y="931.6" text-anchor="middle">0.8</text><text x="283.12" y="931.6" text-anchor="middle">1.0</text></g>
<line x1="141.14" y1="754.7" x2="141.14" y2="921.4" stroke="#ff1010" stroke-opacity="0.45" stroke-width="1.4" stroke-dasharray="3.4,3.05" stroke-dashoffset="-1.85"/>
<path d="M57.83,920.87 C59.27,920.44 63.59,919.55 66.47,918.31 C69.36,917.08 72.24,916.06 75.12,913.46 C78.01,910.86 80.89,906.82 83.78,902.73 C86.66,898.64 89.54,893.75 92.43,888.93 C95.31,884.12 98.19,879.48 101.08,873.86 C103.96,868.24 106.84,861.85 109.73,855.21 C112.61,848.57 115.49,840.35 118.38,834.01 C121.26,827.66 124.14,822 127.03,817.15 C129.91,812.29 132.79,808.16 135.68,804.88 C138.56,801.6 141.44,799.73 144.32,797.47 C147.21,795.22 150.09,793.64 152.98,791.34 C155.86,789.04 158.74,785.98 161.62,783.68 C164.51,781.38 167.39,779.08 170.28,777.55 C173.16,776.01 176.04,775.55 178.93,774.48 C181.81,773.42 184.69,771.93 187.58,771.16 C190.46,770.39 193.34,770.1 196.23,769.88 C199.11,769.67 201.99,769.88 204.88,769.88 C207.76,769.88 210.64,769.88 213.53,769.88 C216.41,769.88 220.73,769.88 222.18,769.88" fill="none" stroke="#505050" stroke-width="0.7"/>
<g fill="#0000ff"><rect x="56.23" y="919.27" width="3.2" height="3.2"/><rect x="64.88" y="916.71" width="3.2" height="3.2"/><rect x="73.53" y="911.86" width="3.2" height="3.2"/><rect x="82.18" y="901.13" width="3.2" height="3.2"/><rect x="90.83" y="887.33" width="3.2" height="3.2"/><rect x="99.48" y="872.26" width="3.2" height="3.2"/><rect x="108.13" y="853.61" width="3.2" height="3.2"/><rect x="116.78" y="832.41" width="3.2" height="3.2"/><rect x="125.43" y="815.55" width="3.2" height="3.2"/><rect x="134.08" y="803.28" width="3.2" height="3.2"/><rect x="142.72" y="795.87" width="3.2" height="3.2"/><rect x="151.38" y="789.74" width="3.2" height="3.2"/><rect x="160.03" y="782.08" width="3.2" height="3.2"/><rect x="168.68" y="775.95" width="3.2" height="3.2"/><rect x="177.33" y="772.88" width="3.2" height="3.2"/><rect x="185.98" y="769.56" width="3.2" height="3.2"/><rect x="194.63" y="768.28" width="3.2" height="3.2"/><rect x="203.28" y="768.28" width="3.2" height="3.2"/><rect x="211.93" y="768.28" width="3.2" height="3.2"/><rect x="220.58" y="768.28" width="3.2" height="3.2"/></g>
<text transform="translate(142.9,942.3) scale(0.86,1)" text-anchor="middle" style="font-family:'Liberation Serif',serif;font-size:7.7px;font-weight:bold" fill="#111">Roundness</text>
<text transform="translate(34.35,838.05) rotate(-90) scale(1,0.84)" text-anchor="middle" style="font-family:'Liberation Serif',serif;font-size:7.7px;font-weight:bold" fill="#111">Relative frequency</text>
<text transform="translate(244.9,838.05) rotate(-90) scale(1,0.84)" text-anchor="middle" style="font-family:'Liberation Serif',serif;font-size:7.9px;font-weight:bold" fill="#111">Cumulative frequency (%)</text>
<rect x="61.1" y="762.7" width="24.28" height="9.7" fill="#cfcfcf"/>
<rect x="59.8" y="761.4" width="24.28" height="9.7" fill="#fff" stroke="#dadada" stroke-width="0.5"/>
<text transform="translate(60.3,768.3) scale(0.875,1)" style="font-family:'Liberation Serif',serif;font-size:7.4px" fill="#111" stroke="#111" stroke-width="0.22"><tspan font-style="italic">q</tspan>=50kPa</text>
<text transform="translate(123.56,793.13) scale(0.9,1)" text-anchor="middle" style="font-family:'Liberation Serif',serif;font-size:7.2px" fill="#ff2020" stroke="#ff2020" stroke-width="0.12"><tspan font-style="italic">Ac</tspan>=0.51</text>
<g fill="#fac896" stroke="#6e6660" stroke-width="0.5"><rect x="281.15" y="917.29" width="8.65" height="4.11"/><rect x="289.8" y="917.29" width="8.65" height="4.11"/><rect x="298.45" y="893.28" width="8.65" height="28.12"/><rect x="307.1" y="885.61" width="8.65" height="35.79"/><rect x="315.75" y="865.94" width="8.65" height="55.46"/><rect x="324.4" y="854.19" width="8.65" height="67.21"/><rect x="333.05" y="849.85" width="8.65" height="71.55"/><rect x="341.7" y="810.76" width="8.65" height="110.64"/><rect x="350.35" y="830.18" width="8.65" height="91.22"/><rect x="359" y="838.09" width="8.65" height="83.31"/><rect x="367.65" y="846.01" width="8.65" height="75.39"/><rect x="376.3" y="854.19" width="8.65" height="67.21"/><rect x="384.95" y="877.69" width="8.65" height="43.71"/><rect x="393.6" y="881.53" width="8.65" height="39.87"/><rect x="402.25" y="893.28" width="8.65" height="28.12"/><rect x="410.9" y="901.45" width="8.65" height="19.95"/><rect x="419.55" y="909.12" width="8.65" height="12.28"/></g>
<path d="M272.5,921.4 V754.7 H445.5 V921.4" fill="none" stroke="#6a6a6a" stroke-width="1.2"/>
<line x1="272.5" y1="921.4" x2="447.9" y2="921.4" stroke="#444" stroke-width="1.4"/>
<path d="M270,921.4H272.5M270,904.73H272.5M270,888.06H272.5M270,871.39H272.5M270,854.72H272.5M270,838.05H272.5M270,821.38H272.5M270,804.71H272.5M270,788.04H272.5M270,771.37H272.5M270,754.7H272.5M445.5,921.4h2.4M445.5,906.25h1.5M445.5,891.09h2.4M445.5,875.94h1.5M445.5,860.78h2.4M445.5,845.63h1.5M445.5,830.47h2.4M445.5,815.32h1.5M445.5,800.16h2.4M445.5,785.01h1.5M445.5,769.85h2.4M272.5,921.4v2.7M307.1,921.4v2.7M341.7,921.4v2.7M376.3,921.4v2.7M410.9,921.4v2.7M445.5,921.4v2.7" stroke="#6a6a6a" stroke-width="1.1" fill="none"/>
<g transform="scale(0.8,1)" style="font-family:'Liberation Serif',serif;font-size:6.6px" fill="#111"><text x="334.62" y="923.1" text-anchor="end">0.00</text><text x="334.62" y="906.43" text-anchor="end">0.02</text><text x="334.62" y="889.76" text-anchor="end">0.04</text><text x="334.62" y="873.09" text-anchor="end">0.06</text><text x="334.62" y="856.42" text-anchor="end">0.08</text><text x="334.62" y="839.75" text-anchor="end">0.10</text><text x="334.62" y="823.08" text-anchor="end">0.12</text><text x="334.62" y="806.41" text-anchor="end">0.14</text><text x="334.62" y="789.74" text-anchor="end">0.16</text><text x="334.62" y="773.07" text-anchor="end">0.18</text><text x="334.62" y="756.4" text-anchor="end">0.20</text><text x="562.12" y="923.15">0.0</text><text x="562.12" y="892.84">0.2</text><text x="562.12" y="862.53">0.4</text><text x="562.12" y="832.22">0.6</text><text x="562.12" y="801.91">0.8</text><text x="562.12" y="771.6">1.0</text><text x="340.62" y="931.6" text-anchor="middle">0.0</text><text x="383.88" y="931.6" text-anchor="middle">0.2</text><text x="427.12" y="931.6" text-anchor="middle">0.4</text><text x="470.38" y="931.6" text-anchor="middle">0.6</text><text x="513.62" y="931.6" text-anchor="middle">0.8</text><text x="556.88" y="931.6" text-anchor="middle">1.0</text></g>
<line x1="356.56" y1="754.7" x2="356.56" y2="921.4" stroke="#ff1010" stroke-opacity="0.45" stroke-width="1.4" stroke-dasharray="3.4,3.05" stroke-dashoffset="-1.85"/>
<path d="M276.82,920.87 C278.27,920.74 282.59,920.36 285.48,920.1 C288.36,919.85 291.24,920.27 294.12,919.34 C297.01,918.4 299.89,916.4 302.77,914.48 C305.66,912.57 308.54,910.56 311.43,907.84 C314.31,905.11 317.19,901.84 320.07,898.13 C322.96,894.43 325.84,889.79 328.73,885.61 C331.61,881.44 334.49,878.5 337.38,873.09 C340.26,867.69 343.14,859.3 346.02,853.17 C348.91,847.04 351.79,841.63 354.68,836.31 C357.56,830.98 360.44,826 363.32,821.23 C366.21,816.46 369.09,811.95 371.98,807.69 C374.86,803.44 377.74,799.01 380.62,795.69 C383.51,792.36 386.39,790.02 389.27,787.77 C392.16,785.51 395.04,783.93 397.93,782.15 C400.81,780.36 403.69,778.78 406.58,777.04 C409.46,775.29 412.34,772.86 415.23,771.67 C418.11,770.48 420.99,770.18 423.88,769.88 C426.76,769.59 429.64,769.88 432.52,769.88 C435.41,769.88 439.73,769.88 441.18,769.88" fill="none" stroke="#505050" stroke-width="0.7"/>
<g fill="#0000ff"><rect x="275.22" y="919.27" width="3.2" height="3.2"/><rect x="283.88" y="918.5" width="3.2" height="3.2"/><rect x="292.52" y="917.74" width="3.2" height="3.2"/><rect x="301.17" y="912.88" width="3.2" height="3.2"/><rect x="309.82" y="906.24" width="3.2" height="3.2"/><rect x="318.47" y="896.53" width="3.2" height="3.2"/><rect x="327.12" y="884.01" width="3.2" height="3.2"/><rect x="335.77" y="871.49" width="3.2" height="3.2"/><rect x="344.42" y="851.57" width="3.2" height="3.2"/><rect x="353.07" y="834.71" width="3.2" height="3.2"/><rect x="361.72" y="819.63" width="3.2" height="3.2"/><rect x="370.38" y="806.09" width="3.2" height="3.2"/><rect x="379.02" y="794.09" width="3.2" height="3.2"/><rect x="387.67" y="786.17" width="3.2" height="3.2"/><rect x="396.32" y="780.55" width="3.2" height="3.2"/><rect x="404.98" y="775.44" width="3.2" height="3.2"/><rect x="413.62" y="770.07" width="3.2" height="3.2"/><rect x="422.27" y="768.28" width="3.2" height="3.2"/><rect x="430.92" y="768.28" width="3.2" height="3.2"/><rect x="439.57" y="768.28" width="3.2" height="3.2"/></g>
<text transform="translate(361.9,942.3) scale(0.86,1)" text-anchor="middle" style="font-family:'Liberation Serif',serif;font-size:7.7px;font-weight:bold" fill="#111">Roundness</text>
<text transform="translate(253.05,838.05) rotate(-90) scale(1,0.84)" text-anchor="middle" style="font-family:'Liberation Serif',serif;font-size:7.7px;font-weight:bold" fill="#111">Relative frequency</text>
<text transform="translate(463.7,838.05) rotate(-90) scale(1,0.84)" text-anchor="middle" style="font-family:'Liberation Serif',serif;font-size:7.9px;font-weight:bold" fill="#111">Cumulative frequency (%)</text>
<rect x="280.1" y="762.7" width="27.51" height="9.7" fill="#cfcfcf"/>
<rect x="278.8" y="761.4" width="27.51" height="9.7" fill="#fff" stroke="#dadada" stroke-width="0.5"/>
<text transform="translate(279.3,768.3) scale(0.875,1)" style="font-family:'Liberation Serif',serif;font-size:7.4px" fill="#111" stroke="#111" stroke-width="0.22"><tspan font-style="italic">q</tspan>=100kPa</text>
<text transform="translate(343.07,792.62) scale(0.9,1)" text-anchor="middle" style="font-family:'Liberation Serif',serif;font-size:7.2px" fill="#ff2020" stroke="#ff2020" stroke-width="0.12"><tspan font-style="italic">Ac</tspan>=0.49</text>
<g fill="#fac896" stroke="#6e6660" stroke-width="0.5"><rect x="517.45" y="911.16" width="8.65" height="10.24"/><rect x="526.1" y="903.24" width="8.65" height="18.16"/><rect x="534.75" y="877.95" width="8.65" height="43.45"/><rect x="543.4" y="868.5" width="8.65" height="52.9"/><rect x="552.05" y="841.93" width="8.65" height="79.47"/><rect x="560.7" y="825.58" width="8.65" height="95.82"/><rect x="569.35" y="800.54" width="8.65" height="120.86"/><rect x="578" y="828.39" width="8.65" height="93.01"/><rect x="586.65" y="840.39" width="8.65" height="81.01"/><rect x="595.3" y="855.47" width="8.65" height="65.93"/><rect x="603.95" y="868.5" width="8.65" height="52.9"/><rect x="612.6" y="881.27" width="8.65" height="40.13"/><rect x="621.25" y="894.81" width="8.65" height="26.59"/><rect x="629.9" y="907.33" width="8.65" height="14.07"/></g>
<path d="M491.5,921.4 V754.7 H664.5 V921.4" fill="none" stroke="#6a6a6a" stroke-width="1.2"/>
<line x1="491.5" y1="921.4" x2="666.9" y2="921.4" stroke="#444" stroke-width="1.4"/>
<path d="M489,921.4H491.5M489,904.73H491.5M489,888.06H491.5M489,871.39H491.5M489,854.72H491.5M489,838.05H491.5M489,821.38H491.5M489,804.71H491.5M489,788.04H491.5M489,771.37H491.5M489,754.7H491.5M664.5,921.4h2.4M664.5,906.25h1.5M664.5,891.09h2.4M664.5,875.94h1.5M664.5,860.78h2.4M664.5,845.63h1.5M664.5,830.47h2.4M664.5,815.32h1.5M664.5,800.16h2.4M664.5,785.01h1.5M664.5,769.85h2.4M491.5,921.4v2.7M526.1,921.4v2.7M560.7,921.4v2.7M595.3,921.4v2.7M629.9,921.4v2.7M664.5,921.4v2.7" stroke="#6a6a6a" stroke-width="1.1" fill="none"/>
<g transform="scale(0.8,1)" style="font-family:'Liberation Serif',serif;font-size:6.6px" fill="#111"><text x="608.38" y="923.1" text-anchor="end">0.00</text><text x="608.38" y="906.43" text-anchor="end">0.02</text><text x="608.38" y="889.76" text-anchor="end">0.04</text><text x="608.38" y="873.09" text-anchor="end">0.06</text><text x="608.38" y="856.42" text-anchor="end">0.08</text><text x="608.38" y="839.75" text-anchor="end">0.10</text><text x="608.38" y="823.08" text-anchor="end">0.12</text><text x="608.38" y="806.41" text-anchor="end">0.14</text><text x="608.38" y="789.74" text-anchor="end">0.16</text><text x="608.38" y="773.07" text-anchor="end">0.18</text><text x="608.38" y="756.4" text-anchor="end">0.20</text><text x="835.88" y="923.15">0.0</text><text x="835.88" y="892.84">0.2</text><text x="835.88" y="862.53">0.4</text><text x="835.88" y="832.22">0.6</text><text x="835.88" y="801.91">0.8</text><text x="835.88" y="771.6">1.0</text><text x="614.38" y="931.6" text-anchor="middle">0.0</text><text x="657.62" y="931.6" text-anchor="middle">0.2</text><text x="700.88" y="931.6" text-anchor="middle">0.4</text><text x="744.12" y="931.6" text-anchor="middle">0.6</text><text x="787.37" y="931.6" text-anchor="middle">0.8</text><text x="830.62" y="931.6" text-anchor="middle">1.0</text></g>
<line x1="560.74" y1="754.7" x2="560.74" y2="921.4" stroke="#ff1010" stroke-opacity="0.45" stroke-width="1.4" stroke-dasharray="3.4,3.05" stroke-dashoffset="-1.85"/>
<path d="M495.82,920.87 C497.27,920.87 501.59,920.87 504.48,920.87 C507.36,920.87 510.24,921.64 513.12,920.87 C516.01,920.1 518.89,917.85 521.77,916.27 C524.66,914.69 527.54,913.03 530.42,911.42 C533.31,909.8 536.19,908.95 539.08,906.56 C541.96,904.18 544.84,901.07 547.73,897.11 C550.61,893.15 553.49,887.61 556.38,882.8 C559.26,877.99 562.14,873.05 565.02,868.24 C567.91,863.43 570.79,859.17 573.67,853.93 C576.56,848.7 579.44,842.82 582.33,836.82 C585.21,830.81 588.09,825.11 590.98,817.91 C593.86,810.72 596.74,799.26 599.62,793.64 C602.51,788.02 605.39,786.96 608.27,784.19 C611.16,781.42 614.04,779.08 616.92,777.04 C619.81,774.99 622.69,773.12 625.58,771.93 C628.46,770.73 631.34,770.22 634.23,769.88 C637.11,769.54 639.99,769.88 642.88,769.88 C645.76,769.88 648.64,769.88 651.52,769.88 C654.41,769.88 658.73,769.88 660.17,769.88" fill="none" stroke="#505050" stroke-width="0.7"/>
<g fill="#0000ff"><rect x="494.22" y="919.27" width="3.2" height="3.2"/><rect x="502.88" y="919.27" width="3.2" height="3.2"/><rect x="511.52" y="919.27" width="3.2" height="3.2"/><rect x="520.17" y="914.67" width="3.2" height="3.2"/><rect x="528.82" y="909.82" width="3.2" height="3.2"/><rect x="537.48" y="904.96" width="3.2" height="3.2"/><rect x="546.12" y="895.51" width="3.2" height="3.2"/><rect x="554.77" y="881.2" width="3.2" height="3.2"/><rect x="563.42" y="866.64" width="3.2" height="3.2"/><rect x="572.07" y="852.33" width="3.2" height="3.2"/><rect x="580.73" y="835.22" width="3.2" height="3.2"/><rect x="589.38" y="816.31" width="3.2" height="3.2"/><rect x="598.02" y="792.04" width="3.2" height="3.2"/><rect x="606.67" y="782.59" width="3.2" height="3.2"/><rect x="615.32" y="775.44" width="3.2" height="3.2"/><rect x="623.98" y="770.33" width="3.2" height="3.2"/><rect x="632.62" y="768.28" width="3.2" height="3.2"/><rect x="641.27" y="768.28" width="3.2" height="3.2"/><rect x="649.92" y="768.28" width="3.2" height="3.2"/><rect x="658.57" y="768.28" width="3.2" height="3.2"/></g>
<text transform="translate(580.9,942.3) scale(0.86,1)" text-anchor="middle" style="font-family:'Liberation Serif',serif;font-size:7.7px;font-weight:bold" fill="#111">Roundness</text>
<text transform="translate(472.75,838.05) rotate(-90) scale(1,0.84)" text-anchor="middle" style="font-family:'Liberation Serif',serif;font-size:7.7px;font-weight:bold" fill="#111">Relative frequency</text>
<text transform="translate(683.35,838.05) rotate(-90) scale(1,0.84)" text-anchor="middle" style="font-family:'Liberation Serif',serif;font-size:7.9px;font-weight:bold" fill="#111">Cumulative frequency (%)</text>
<rect x="499.1" y="762.7" width="27.51" height="9.7" fill="#cfcfcf"/>
<rect x="497.8" y="761.4" width="27.51" height="9.7" fill="#fff" stroke="#dadada" stroke-width="0.5"/>
<text transform="translate(498.3,768.3) scale(0.875,1)" style="font-family:'Liberation Serif',serif;font-size:7.4px" fill="#111" stroke="#111" stroke-width="0.22"><tspan font-style="italic">q</tspan>=150kPa</text>
<text transform="translate(546.99,793.39) scale(0.9,1)" text-anchor="middle" style="font-family:'Liberation Serif',serif;font-size:7.2px" fill="#ff2020" stroke="#ff2020" stroke-width="0.12"><tspan font-style="italic">Ac</tspan>=0.40</text>
</svg>
</body></html>
